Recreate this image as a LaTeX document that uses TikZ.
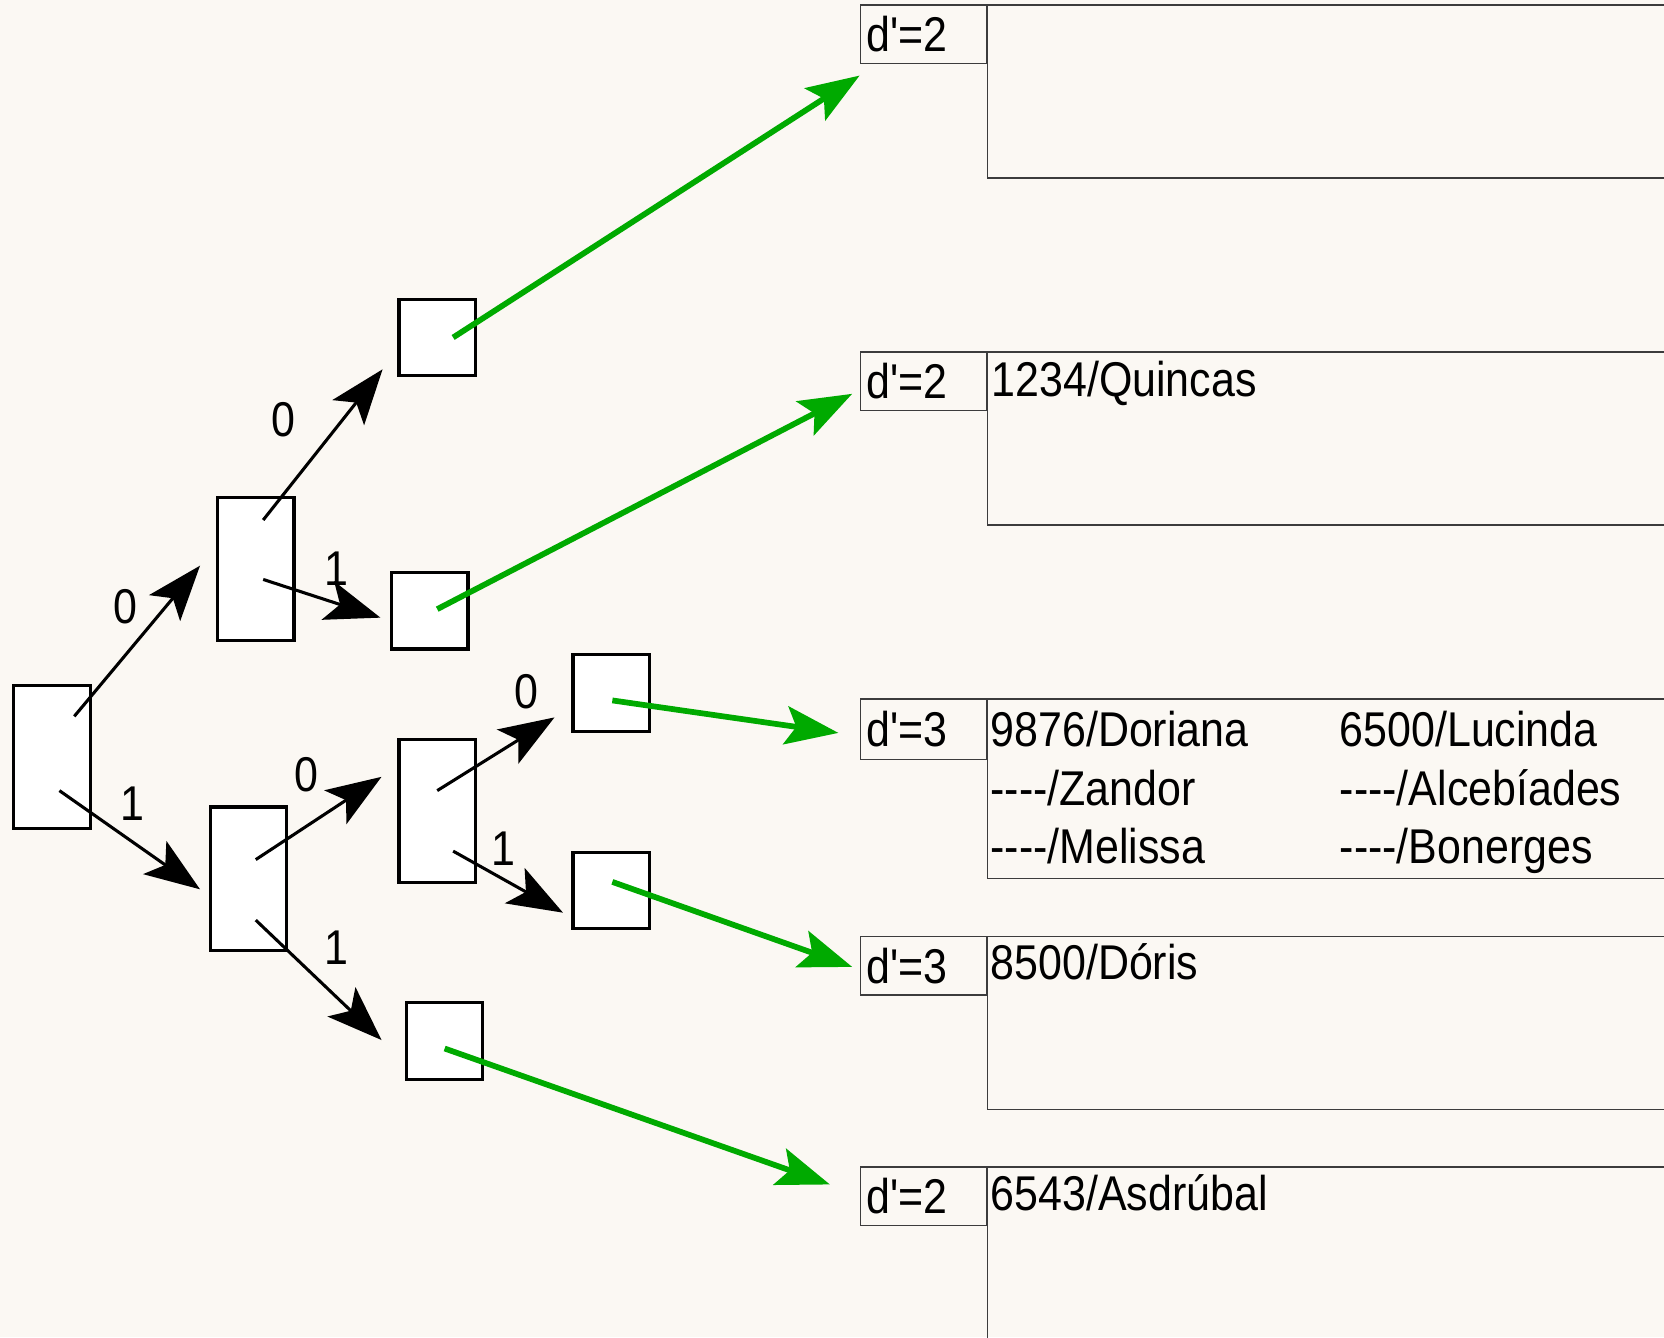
\documentclass[tikz,border=0pt]{standalone}
\usepackage{fontspec}
\newfontfamily\lsans{Liberation Sans}[FakeStretch=0.88]
\usetikzlibrary{arrows.meta,calc}
\definecolor{bg}{RGB}{251,248,243}
\definecolor{grn}{RGB}{0,170,0}
\definecolor{ln}{RGB}{60,60,60}
\begin{document}
\begin{tikzpicture}[x=0.5pt,y=-0.5pt,
  font=\lsans\fontsize{23pt}{27pt}\selectfont,
  tbox/.style={draw=black, fill=white, line width=1.5pt, minimum width=36pt, inner sep=0pt},
  tall/.style={tbox, minimum height=67.5pt},
  leaf/.style={tbox, minimum height=36pt},
  barr/.style={line width=1.45pt, -{Stealth[length=26pt,width=19pt,inset=6pt]}},
  garr/.style={draw=grn, line width=2.7pt, -{Stealth[length=25pt,width=18pt,inset=5pt]}},
  labbox/.style={draw=ln, line width=0.6pt, anchor=north west, minimum height=27.5pt,
    inner xsep=3pt, inner ysep=0pt, text width=53.5pt, align=left},
  databox/.style={draw=ln, line width=0.6pt, anchor=north west, minimum width=400pt, inner sep=0pt},
  numlab/.style={inner sep=0pt},
  txt/.style={anchor=base west, inner sep=0pt}
]
\clip (0,0) rectangle (1568,1260);
\fill[bg] (0,0) rectangle (1568,1260);

% tree nodes
\node[tall] (root) at (49,713.5) {};
\node[tall] (A) at (241,536) {};
\node[tall] (B) at (234,828) {};
\node[tall] (B0) at (412,764) {};
\node[leaf] (A0) at (412,318) {};
\node[leaf] (A1) at (405,575.5) {};
\node[leaf] (B1) at (419,981) {};
\node[leaf] (B00) at (576,653) {};
\node[leaf] (B01) at (576,839) {};

% buckets
\node[labbox] (lab1) at (810,4) {d'=2};
\node[databox, minimum height=81.5pt] (d1) at (lab1.north east) {};
\node[labbox] (lab2) at (810,331) {d'=2};
\node[databox, minimum height=81.5pt] (d2) at (lab2.north east) {};
\node[labbox, minimum height=28.5pt] (lab3) at (810,658) {d'=3};
\node[databox, minimum height=84.5pt] (d3) at (lab3.north east) {};
\node[labbox] (lab4) at (810,882) {d'=3};
\node[databox, minimum height=81.5pt] (d4) at (lab4.north east) {};
\node[labbox] (lab5) at (810,1099) {d'=2};
\node[databox, minimum height=100pt] (d5) at (lab5.north east) {};

% bucket contents
\node[txt] (q) at (934,374) {1234/Quincas};
\node[txt] (r1a) at (933,703) {9876/Doriana};
\node[txt] (r1b) at (1262,703) {6500/Lucinda};
\node[txt] (r2a) at (933,759) {----/Zandor};
\node[txt] (r2b) at (1262,759) {----/Alcebíades};
\node[txt] (r3a) at (933,814) {----/Melissa};
\node[txt] (r3b) at (1262,814) {----/Bonerges};
\node[txt] (dor) at (933,923) {8500/Dóris};
\node[txt] (asd) at (933,1141) {6543/Asdrúbal};

% black arrows
\draw[barr] ([shift={(21,-38.5)}]root.center) -- ([shift={(-15,-3)}]A.west);
\draw[barr] ([shift={(7,31.5)}]root.center) -- ([shift={(-8,10)}]B.west);
\draw[barr] ([shift={(7,-46)}]A.center) -- ([shift={(-14,30)}]A0.west);
\draw[barr] ([shift={(7,10)}]A.center) -- ([shift={(-9,6.5)}]A1.west);
\draw[barr] ([shift={(7,-18)}]B.center) -- ([shift={(-15,-32)}]B0.west);
\draw[barr] ([shift={(7,39)}]B.center) -- ([shift={(-22,-1)}]B1.west);
\draw[barr] ([shift={(0,-19)}]B0.center) -- ([shift={(-16,23)}]B00.west);
\draw[barr] ([shift={(15,38)}]B0.center) -- ([shift={(-8,21)}]B01.west);

% arrow labels
\node[numlab] (n1) at (118,572) {0};
\node[numlab] (n2) at (125,757) {1};
\node[numlab] (n3) at (267,395) {0};
\node[numlab] (n4) at (317,536) {1};
\node[numlab] (n5) at (289,730) {0};
\node[numlab] (n6) at (317,893) {1};
\node[numlab] (n7) at (496,652) {0};
\node[numlab] (n8) at (474,800) {1};

% green arrows
\draw[garr] ([shift={(15,0)}]A0.center) -- ([shift={(0,11)}]lab1.south west);
\draw[garr] ([shift={(7,-1.5)}]A1.center) -- ([shift={(-7,12)}]lab2.west);
\draw[garr] ([shift={(1,7)}]B00.center) -- ([shift={(-20,3.5)}]lab3.west);
\draw[garr] ([shift={(1,-8)}]B01.center) -- ([shift={(-7,1)}]lab4.west);
\draw[garr] ([shift={(0,7)}]B1.center) -- ([shift={(-28,-11)}]lab5.west);
\end{tikzpicture}
\end{document}
